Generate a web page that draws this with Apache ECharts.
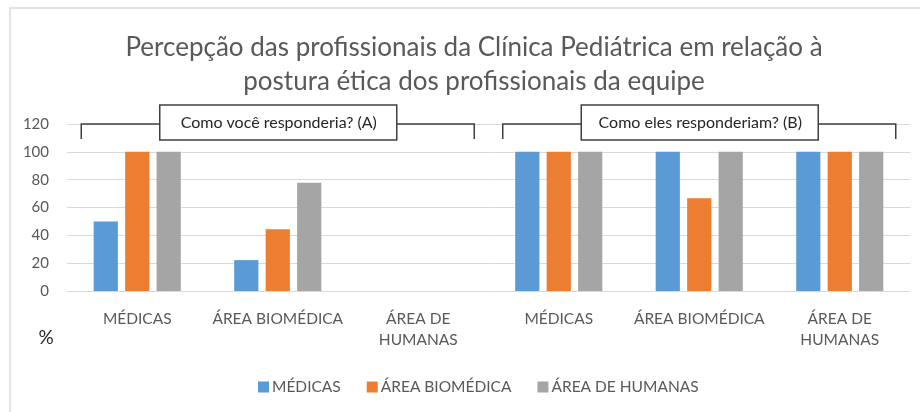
<!DOCTYPE html>
<html>
<head>
<meta charset="utf-8">
<script src="https://cdn.jsdelivr.net/npm/echarts@6/dist/echarts.min.js"></script>
<style>
  html, body { margin: 0; padding: 0; background: #fff; }
  #chart { width: 920px; height: 412px; }
</style>
</head>
<body>
<div id="chart"></div>
<script>
// categorias do eixo x (grupo A e grupo B)
const categories = ['MÉDICAS', 'ÁREA BIOMÉDICA', 'ÁREA DE\nHUMANAS', 'MÉDICAS', 'ÁREA BIOMÉDICA', 'ÁREA DE\nHUMANAS'];
const seriesNames = ['MÉDICAS', 'ÁREA BIOMÉDICA', 'ÁREA DE HUMANAS'];
const medicas = [50, 22.2, 0, 100, 100, 100];
const areaBiomedica = [100, 44.4, 0, 100, 66.7, 100];
const areaHumanas = [100, 77.8, 0, 100, 100, 100];
const yTicks = [0, 20, 40, 60, 80, 100, 120];
const bracketLabels = ['Como você responderia? (A)', 'Como eles responderiam? (B)'];

const colors = ['#5b9bd5', '#ed7d31', '#a5a5a5'];
const font = 'Lato, "Open Sans", sans-serif';

let chart = echarts.init(document.getElementById('chart'));

let option = {
  animation: false,
  color: colors,
  textStyle: { fontFamily: font },
  title: {
    text: 'Percepção das profissionais da Clínica Pediátrica em relação à\npostura ética dos profissionais da equipe',
    left: 469,
    top: 26,
    textAlign: 'center',
    textStyle: {
      fontFamily: font,
      fontSize: 26,
      fontWeight: 'normal',
      color: '#595959',
      lineHeight: 34
    }
  },
  grid: { left: 67, right: 10, top: 124, bottom: 121, containLabel: false },
  legend: {
    data: seriesNames,
    left: 253,
    top: 374,
    itemWidth: 11,
    itemHeight: 11,
    itemGap: 26,
    icon: 'rect',
    textStyle: { fontFamily: font, fontSize: 15.5, color: '#595959', padding: [0, 0, 0, -2] }
  },
  xAxis: {
    type: 'category',
    data: categories,
    axisLine: { lineStyle: { color: '#d9d9d9' } },
    axisTick: { show: false },
    axisLabel: {
      interval: 0,
      margin: 17,
      fontFamily: font,
      fontSize: 15.5,
      lineHeight: 21,
      color: '#595959'
    }
  },
  yAxis: {
    type: 'value',
    min: yTicks[0],
    max: yTicks[yTicks.length - 1],
    interval: 20,
    axisLine: { show: false },
    axisTick: { show: false },
    axisLabel: { margin: 18, fontFamily: font, fontSize: 15, color: '#595959' },
    splitLine: { lineStyle: { color: '#d9d9d9' } }
  },
  series: [
    { name: seriesNames[0], type: 'bar', data: medicas, barGap: '30%', barCategoryGap: '38%' },
    { name: seriesNames[1], type: 'bar', data: areaBiomedica },
    { name: seriesNames[2], type: 'bar', data: areaHumanas }
  ]
};

chart.setOption(option);

// chaves (colchetes) com rótulo sobre cada grupo
function buildBrackets() {
  const yTop = chart.convertToPixel({ yAxisIndex: 0 }, 120);
  const half = 56;
  const groups = [[0, 1, 2], [3, 4, 5]];
  let elements = [];
  groups.forEach(function (g, i) {
    const x0 = chart.convertToPixel({ xAxisIndex: 0 }, g[0]) - half;
    const x1 = chart.convertToPixel({ xAxisIndex: 0 }, g[2]) + half;
    const xm = chart.convertToPixel({ xAxisIndex: 0 }, g[1]);
    elements.push({
      type: 'polyline',
      z: 100,
      shape: { points: [[x0, yTop + 15], [x0, yTop], [x1, yTop], [x1, yTop + 15]] },
      style: { stroke: '#404040', lineWidth: 1.5, fill: null }
    });
    elements.push({
      type: 'rect',
      z: 101,
      shape: { x: xm - 118, y: yTop - 19, width: 237, height: 35 },
      style: { fill: '#fff', stroke: '#404040', lineWidth: 1.5 }
    });
    elements.push({
      type: 'text',
      z: 102,
      x: xm + 1,
      y: yTop - 1.5,
      style: {
        text: bracketLabels[i],
        font: '16px ' + font,
        fill: '#262626',
        align: 'center',
        verticalAlign: 'middle'
      }
    });
  });
  // símbolo de porcentagem
  elements.push({
    type: 'text',
    x: 46,
    y: 338,
    style: { text: '%', font: '19px ' + font, fill: '#262626', align: 'center', verticalAlign: 'middle' }
  });
  // moldura da área do gráfico
  elements.push({
    type: 'rect',
    z: -1,
    shape: { x: 10, y: 8, width: 930, height: 430 },
    style: { fill: null, stroke: '#e3e3e3', lineWidth: 2 }
  });
  chart.setOption({ graphic: elements });
}

buildBrackets();
</script>
</body>
</html>
